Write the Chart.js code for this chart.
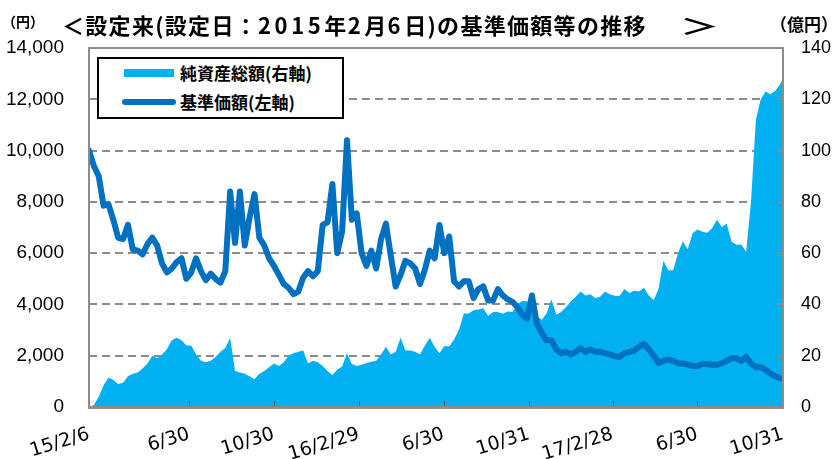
<!DOCTYPE html>
<html lang="ja">
<head>
<meta charset="utf-8">
<title>基準価額等の推移</title>
<script src="https://cdn.jsdelivr.net/npm/chart.js@4.4.1/dist/chart.umd.min.js"></script>
<style>
  html, body { margin: 0; padding: 0; background: #fff; }
  #wrap { position: relative; width: 837px; height: 459px; overflow: hidden; }
  #chart { position: absolute; left: 0; top: 0; }
  .txt { position: absolute; font-family: "Noto Sans CJK JP", sans-serif; font-weight: bold; color: #000; white-space: nowrap; line-height: 1; }
  #unitLeft { left: 2px; top: 14px; font-size: 14px; }
  #title { left: 62px; top: 13px; font-size: 22px; letter-spacing: 1.3px; }
  #title .num { letter-spacing: 3.6px; }
  #title .close { display: inline-block; margin-left: 33px; transform: scaleX(1.8); transform-origin: left center; }
  #unitRight { left: 770px; top: 15px; font-size: 17px; }
  #legend { position: absolute; left: 97px; top: 57px; width: 243px; height: 58px; border: 2px solid #000; background: #fff; }
  .item { position: absolute; left: 0; height: 22px; width: 100%; }
  .swatch { position: absolute; top: 50%; }
  .label { position: absolute; left: 81px; top: 0; line-height: 22px; font-family: "Noto Sans CJK JP", sans-serif; font-weight: bold; font-size: 17px; white-space: nowrap; }
</style>
</head>
<body>
<div id="wrap">
  <canvas id="chart" width="837" height="459"></canvas>
  <div class="txt" id="unitLeft">（円）</div>
  <div class="txt" id="title">＜設定来(設定日：<span class="num">2015</span>年<span class="num">2</span>月<span class="num">6</span>日)の基準価額等の推移<span class="close">＞</span></div>
  <div class="txt" id="unitRight">（億円）</div>
  <div id="legend"></div>
</div>
<script>
// 週次サンプル (2015/2/6 から 7 日おき、最後だけ 2017/10/31)
const firstDate = '2015-02-06';
const lastDate = '2017-10-31';
const stepDays = 7;

// 基準価額 (円, 左軸)
const navValues = [
  10000, 9400, 9000, 7850, 7900, 7300, 6600, 6550, 7100, 6150,
  6100, 5950, 6350, 6600, 6300, 5600, 5250, 5400, 5650, 5800,
  5000, 5250, 5800, 5300, 4950, 5200, 5000, 4850, 5300, 8400,
  6400, 8400, 6300, 7400, 8300, 6600, 6300, 5800, 5500, 5150,
  4800, 4650, 4400, 4500, 5050, 5300, 5100, 5300, 7100, 7200,
  8700, 6000, 6850, 10400, 7300, 7550, 6000, 5500, 6100, 5400,
  6550, 7150, 5900, 4700, 5150, 5700, 5600, 5400, 4800, 5350,
  6100, 5800, 7100, 6000, 6650, 4900, 4700, 4900, 4900, 4250,
  4600, 4700, 4150, 4150, 4600, 4350, 4200, 4100, 3900, 3600,
  3450, 4350, 3250, 2900, 2600, 2600, 2250, 2100, 2150, 2050,
  2150, 2300, 2150, 2250, 2150, 2150, 2100, 2050, 1980, 1950,
  2100, 2150, 2200, 2350, 2450, 2250, 2000, 1720, 1800, 1850,
  1800, 1700, 1700, 1650, 1600, 1600, 1680, 1680, 1650, 1650,
  1700, 1800, 1900, 1900, 1800, 1950, 1700, 1550, 1550, 1450,
  1300, 1200, 1120, 1100
];

// 純資産総額 (億円, 右軸)
const assetValues = [
  0, 0.8, 4, 8.5, 11.5, 10.5, 9, 9.5, 12, 13,
  13.5, 15, 17, 20, 19, 20.5, 22.5, 26, 27, 26,
  24, 24, 20.5, 18, 17.5, 18, 19.5, 21.5, 23, 27,
  14, 13.5, 13, 12, 10.8, 13, 14, 15.5, 17, 16,
  17.5, 20, 21, 21.5, 22, 17, 18, 17.5, 16, 14,
  12.5, 14.5, 15.8, 21, 16.8, 16, 16.5, 17.2, 17.6, 18,
  20.5, 23.5, 20.5, 21.5, 27, 22, 22, 21.5, 20.5, 24,
  27, 23.5, 21, 23.8, 23.6, 26.3, 30, 36.5, 36.5, 37.7,
  38, 38.5, 35.5, 37, 37, 36.4, 37.2, 37, 40, 41.4,
  41.2, 39, 35.5, 34, 36.5, 42, 36, 37, 39, 41.2,
  43, 45, 43.5, 44, 42.5, 43, 45, 44, 43.4, 43.3,
  46, 44.5, 45.3, 45, 46.5, 43.5, 41.6, 46, 57, 53.3,
  53.3, 60, 64.5, 61.5, 67.8, 69.2, 68.3, 68, 69.7, 73,
  70.2, 71.5, 64.5, 63.3, 63.4, 60.5, 80, 112, 120, 123,
  122, 123.3, 126, 128
];

const tickDates = ['2015-02-06', '2015-06-30', '2015-10-30', '2016-02-29', '2016-06-30',
                   '2016-10-31', '2017-02-28', '2017-06-30', '2017-10-31'];
const tickLabels = ['15/2/6', '6/30', '10/30', '16/2/29', '6/30', '10/31', '17/2/28', '6/30', '10/31'];

const navTicks = [0, 2000, 4000, 6000, 8000, 10000, 12000, 14000];
const assetTicks = [0, 20, 40, 60, 80, 100, 120, 140];

function dayOf(s) {
  const p = s.split('-').map(Number);
  const q = firstDate.split('-').map(Number);
  return Math.round((Date.UTC(p[0], p[1] - 1, p[2]) - Date.UTC(q[0], q[1] - 1, q[2])) / 86400000);
}

const lastDay = dayOf(lastDate);
const sampleDays = navValues.map((v, i) => i < navValues.length - 1 ? i * stepDays : lastDay);

const numFont = { family: '"Liberation Sans", Arial, sans-serif', size: 18 };

// 枠線と内向きの目盛り
const framePlugin = {
  id: 'frame',
  afterDatasetsDraw(chart) {
    const { ctx, chartArea: a, scales } = chart;
    ctx.save();
    ctx.strokeStyle = '#8c8c8c';
    ctx.lineWidth = 2;
    ctx.beginPath();
    ctx.moveTo(a.left, a.bottom);
    ctx.lineTo(a.left, a.top);
    ctx.lineTo(a.right, a.top);
    ctx.lineTo(a.right, a.bottom);
    ctx.stroke();

    ctx.lineWidth = 1;
    ctx.strokeStyle = '#555';
    const xt = scales.x.ticks;
    xt.forEach((t, i) => {
      if (i === 0 || i === xt.length - 1) return;
      const px = Math.round(scales.x.getPixelForValue(t.value)) + 0.5;
      ctx.beginPath();
      ctx.moveTo(px, a.bottom);
      ctx.lineTo(px, a.bottom - 6);
      ctx.stroke();
    });
    ctx.strokeStyle = '#8c8c8c';
    ctx.lineWidth = 2;
    scales.y1.ticks.forEach(t => {
      const py = Math.round(scales.y1.getPixelForValue(t.value));
      ctx.beginPath();
      ctx.moveTo(a.right, py);
      ctx.lineTo(a.right - 5, py);
      ctx.stroke();
    });

    ctx.lineWidth = 3;
    ctx.beginPath();
    ctx.moveTo(a.left - 1, a.bottom + 0.5);
    ctx.lineTo(a.right + 1, a.bottom + 0.5);
    ctx.stroke();
    ctx.restore();
  }
};

const ctx = document.getElementById('chart').getContext('2d');
const chart = new Chart(ctx, {
  type: 'line',
  data: {
    datasets: [{
      label: '純資産総額(右軸)',
      data: assetValues.map((v, i) => ({ x: sampleDays[i], y: v })),
      yAxisID: 'y1',
      backgroundColor: '#00b0f0',
      borderColor: '#00b0f0',
      borderWidth: 0,
      fill: 'origin',
      pointRadius: 0,
      order: 2
    }, {
      label: '基準価額(左軸)',
      data: navValues.map((v, i) => ({ x: sampleDays[i], y: v })),
      yAxisID: 'y',
      borderColor: '#0070c0',
      backgroundColor: '#0070c0',
      borderWidth: 6,
      borderCapStyle: 'round',
      borderJoinStyle: 'round',
      fill: false,
      pointRadius: 0,
      order: 1
    }]
  },
  options: {
    responsive: false,
    animation: false,
    layout: { padding: { top: 48, left: 0, right: 0, bottom: 0 } },
    plugins: {
      legend: { display: false },
      tooltip: { enabled: false }
    },
    scales: {
      x: {
        type: 'linear',
        min: 0,
        max: lastDay,
        grid: { display: false, drawTicks: false },
        border: { display: false },
        afterBuildTicks: scale => { scale.ticks = tickDates.map(d => ({ value: dayOf(d) })); },
        afterFit: scale => { scale.height = 52; },
        ticks: {
          autoSkip: false,
          minRotation: 17,
          maxRotation: 17,
          padding: 16,
          color: '#000',
          font: { family: '"DejaVu Sans", sans-serif', size: 19 },
          callback: (value, index) => tickLabels[index]
        }
      },
      y: {
        position: 'left',
        min: 0,
        max: 14000,
        afterBuildTicks: scale => { scale.ticks = navTicks.map(v => ({ value: v })); },
        afterFit: scale => { scale.width = 89; },
        grid: {
          drawTicks: false,
          lineWidth: 2,
          color: c => (c.tick && (c.tick.value === 0 || c.tick.value === 14000)) ? 'rgba(0,0,0,0)' : '#8c8c8c'
        },
        border: { display: false, dash: [8, 5] },
        ticks: {
          padding: 25,
          color: '#000',
          font: { family: numFont.family, size: 19 },
          callback: v => v.toLocaleString('en-US')
        }
      },
      y1: {
        position: 'right',
        min: 0,
        max: 140,
        afterBuildTicks: scale => { scale.ticks = assetTicks.map(v => ({ value: v })); },
        afterFit: scale => { scale.width = 54; },
        grid: { drawOnChartArea: false, drawTicks: false },
        border: { display: false },
        ticks: {
          padding: 18,
          crossAlign: 'near',
          color: '#000',
          font: numFont
        }
      }
    }
  },
  plugins: [framePlugin]
});

// 凡例 (グラフ内の枠)
const legendBox = document.getElementById('legend');
chart.data.datasets.forEach((ds, i) => {
  const item = document.createElement('div');
  item.className = 'item';
  item.style.top = (i === 0 ? 3 : 32) + 'px';
  const sw = document.createElement('div');
  sw.className = 'swatch';
  if (ds.fill) {
    Object.assign(sw.style, { left: '25px', width: '50px', height: '8px', marginTop: '-4px', background: ds.backgroundColor });
  } else {
    Object.assign(sw.style, { left: '23px', width: '54px', height: '6px', marginTop: '-3px', borderRadius: '3px', background: ds.borderColor });
  }
  const lb = document.createElement('div');
  lb.className = 'label';
  lb.textContent = ds.label;
  item.appendChild(sw);
  item.appendChild(lb);
  legendBox.appendChild(item);
});
</script>
</body>
</html>
